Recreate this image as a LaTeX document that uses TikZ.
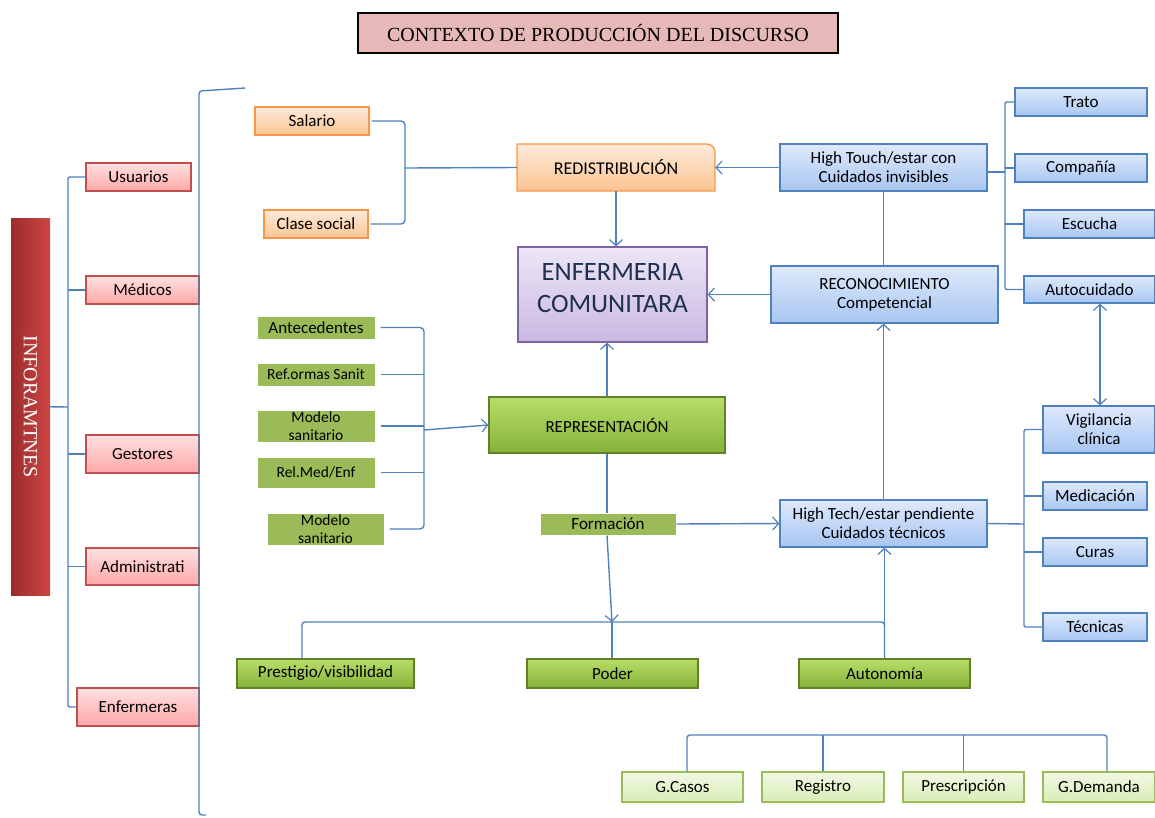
\documentclass[tikz,border=0pt]{standalone}
\usepackage{fontspec}
\setmainfont{Carlito}
\newfontfamily\serifx{Liberation Serif}
\usetikzlibrary{arrows.meta,backgrounds}
\definecolor{lblue}{HTML}{4F81BD}
\definecolor{redb}{HTML}{C0504D}
\definecolor{orab}{HTML}{F79646}
\definecolor{purb}{HTML}{8064A2}
\definecolor{grnf}{HTML}{9BBB59}
\definecolor{navy}{HTML}{1F3050}
\definecolor{bltop}{RGB}{222,233,251}
\definecolor{blbot}{RGB}{168,198,242}
\definecolor{rdtop}{RGB}{255,224,224}
\definecolor{rdbot}{RGB}{255,168,168}
\definecolor{ortop}{RGB}{254,234,218}
\definecolor{orbot}{RGB}{251,196,146}
\definecolor{gbtop}{RGB}{184,222,104}
\definecolor{gbbot}{RGB}{134,178,58}
\definecolor{gbdraw}{RGB}{98,128,40}
\definecolor{lgtop}{RGB}{242,248,230}
\definecolor{lgbot}{RGB}{216,237,180}
\begin{document}
\begin{tikzpicture}[x=1pt,y=-1pt,
  every node/.style={inner sep=0pt,align=center,font=\fontsize{17}{19}\selectfont},
  conn/.style={draw=lblue,line width=1.4pt},
  arr/.style={conn,-{Straight Barb[length=6pt,width=13pt,line width=1.2pt]}},
  darr/.style={conn,{Straight Barb[length=6pt,width=13pt,line width=1.2pt]}-{Straight Barb[length=6pt,width=13pt,line width=1.2pt]}},
  redbox/.style={draw=redb,line width=1.2pt,top color=rdtop,bottom color=rdbot},
  orabox/.style={draw=orab,line width=1.2pt,top color=ortop,bottom color=orbot},
  bluebox/.style={draw=lblue,line width=1.2pt,top color=bltop,bottom color=blbot},
  grnflat/.style={fill=grnf,draw=white,line width=1pt},
  grnbev/.style={draw=gbdraw,line width=1.2pt,top color=gbtop,bottom color=gbbot},
  lgrn/.style={draw=grnf,line width=1.2pt,top color=lgtop,bottom color=lgbot},
  small/.style={font=\fontsize{15.5}{17.5}\selectfont},
]
\useasboundingbox (0,0) rectangle (1155,817);

% title
\node[fill={rgb,255:red,230;green,184;blue,183},draw=black,line width=1.5pt,minimum width=480pt,minimum height=40pt,font=\serifx\fontsize{20}{22}\selectfont] (title) at (598,33) {CONTEXTO DE PRODUCCIÓN DEL DISCURSO};

% informants bar
\node[rotate=-90,minimum width=377pt,minimum height=39pt,left color={rgb,255:red,155;green,44;blue,42},right color={rgb,255:red,206;green,70;blue,68},text=white,font=\serifx\fontsize{20}{22}\selectfont] (infor) at (30.5,406.5) {INFORAMTNES};

% red boxes
\node[redbox,minimum width=105pt,minimum height=28pt] (usu) at (138.5,177) {Usuarios};
\node[redbox,minimum width=113pt,minimum height=28pt] (med) at (142.5,290) {Médicos};
\node[redbox,minimum width=113pt,minimum height=38pt] (ges) at (142.5,454) {Gestores};
\node[redbox,minimum width=113pt,minimum height=37pt] (adm) at (142.5,566.5) {Administrati};
\node[redbox,minimum width=122pt,minimum height=38pt] (enfs) at (138,707) {Enfermeras};

% orange
\node[orabox,minimum width=114pt,minimum height=28pt] (sal) at (312,121) {Salario};
\node[orabox,minimum width=104pt,minimum height=28pt] (cla) at (316,224) {Clase social};
\coordinate (rsw) at (517,191);
\coordinate (rne) at (715,144);
\begin{scope}[on background layer]
\path[draw=orab,line width=1.2pt,top color=ortop,bottom color=orbot]
  (rsw) -- (rsw |- rne) [rounded corners=8pt] -- (rne) [sharp corners] -- (rne |- rsw) -- cycle;
\end{scope}
\node[minimum width=198pt,minimum height=47pt,font=\fontsize{18}{20}\selectfont] (red) at (616,167.5) {REDISTRIBUCIÓN};

% central
\node[draw=purb,line width=1.2pt,top color={rgb,255:red,236;green,230;blue,245},bottom color={rgb,255:red,202;green,184;blue,226},minimum width=189pt,minimum height=95pt,text=navy,font=\fontsize{26.5}{32}\selectfont] (enf) at (612.5,294.5) {ENFERMERIA\\COMUNITARA\\[-18pt]\mbox{}};

% blue
\node[bluebox,minimum width=207pt,minimum height=47pt] (ht) at (883.5,167.5) {High Touch/estar con\\Cuidados invisibles};
\node[bluebox,minimum width=227pt,minimum height=57pt] (rec) at (884.5,294.5) {RECONOCIMIENTO\\Competencial};
\node[bluebox,minimum width=132pt,minimum height=28pt] (tra) at (1081,102) {Trato};
\node[bluebox,minimum width=132pt,minimum height=28pt] (com) at (1081,168) {Compañía};
\node[bluebox,minimum width=131pt,minimum height=28pt] (esc) at (1089.5,224) {Escucha};
\node[bluebox,minimum width=131pt,minimum height=27pt] (aut) at (1089.5,289.5) {Autocuidado};
\node[bluebox,minimum width=112pt,minimum height=47pt] (vig) at (1099,429.5) {Vigilancia\\clínica};
\node[bluebox,minimum width=104pt,minimum height=28pt] (medi) at (1095,496) {Medicación};
\node[bluebox,minimum width=104pt,minimum height=28pt] (cur) at (1095,552) {Curas};
\node[bluebox,minimum width=104pt,minimum height=28pt] (tec) at (1095,627) {Técnicas};
\node[bluebox,minimum width=207pt,minimum height=47pt] (htc) at (883.5,523.5) {High Tech/estar pendiente\\Cuidados técnicos};

% green
\node[grnflat,minimum width=136pt,minimum height=22pt] (for) at (608,524) {Formación};
\node[grnbev,minimum width=236pt,minimum height=56pt] (rep) at (607,425) {REPRESENTACIÓN};
\node[grnbev,minimum width=177pt,minimum height=29pt] (pre) at (325.5,673.5) {Prestigio/visibilidad};
\node[grnbev,minimum width=171pt,minimum height=29pt] (pod) at (612.5,673.5) {Poder};
\node[grnbev,minimum width=171pt,minimum height=29pt] (auto) at (884.5,673.5) {Autonomía};
\node[grnflat,minimum width=118pt,minimum height=23pt] (ant) at (316,327.5) {Antecedentes};
\node[grnflat,small,minimum width=118pt,minimum height=23pt] (ref) at (316,374.5) {Ref.ormas Sanit};
\node[grnflat,small,minimum width=118pt,minimum height=32pt] (mod1) at (316,426) {Modelo\\sanitario};
\node[grnflat,small,minimum width=118pt,minimum height=31pt] (rel) at (316,472.5) {Rel.Med/Enf};
\node[grnflat,small,minimum width=117pt,minimum height=32pt] (mod2) at (325.5,529) {Modelo\\sanitario};

\node[lgrn,minimum width=121pt,minimum height=30pt] (gc) at (682.5,787) {G.Casos};
\node[lgrn,minimum width=122pt,minimum height=30pt] (reg) at (823,787) {Registro};
\node[lgrn,minimum width=121pt,minimum height=30pt] (pres) at (963.5,787) {Prescripción};
\node[lgrn,minimum width=112pt,minimum height=30pt] (gd) at (1099,787) {G.Demanda};

% left tree
\coordinate (lb) at (68,407);
\draw[conn] (infor) -- (lb);
\draw[conn,rounded corners=2pt] (usu.west) -- (usu.west -| lb) -- (enfs.west -| lb) -- (enfs.west);
\foreach \n in {med,ges,adm} \draw[conn] (\n.west) -- (\n.west -| lb);

% big bracket
\coordinate (bt) at (245,88);
\coordinate (bb) at (206,815);
\draw[conn,rounded corners=3pt] (bt) -- (199,91) -- (199,815) -- (bb);

% salary bracket
\coordinate (sb) at (405,168);
\draw[conn,rounded corners=4pt] ([xshift=2pt]sal.east) -| (sb) |- ([xshift=2pt]cla.east);
\draw[conn] (sb) -- (red.west);
\draw[arr] (red.south) -- (red.south |- enf.north);
\draw[arr] (ht.west) -- (red.east);
\draw[conn] (ht.south) -- (rec.north -| ht.south);
\draw[arr] (rec.west) -- (rec.west -| enf.east);

% right top tree
\coordinate (rx) at (1005,172);
\draw[conn] (ht.east |- rx) -- (rx);
\draw[conn,rounded corners=2pt] (tra.west) -- (tra.west -| rx) -- (aut.west -| rx) -- (aut.west);
\draw[conn] (com.west) -- (com.west -| rx);
\draw[conn] (esc.west) -- (esc.west -| rx);
\draw[darr] (vig.north -| 1100,0) -- (aut.south -| 1100,0);

% right bottom tree
\coordinate (tx) at (1024,524);
\draw[conn] (htc.east) -- (tx);
\draw[conn,rounded corners=2pt] (vig.west) -- (vig.west -| tx) -- (tec.west -| tx) -- (tec.west);
\draw[conn] (medi.west) -- (medi.west -| tx);
\draw[conn] (cur.west) -- (cur.west -| tx);
\draw[arr] (htc.north) -- (htc.north |- rec.south);
\draw[arr] (for.east) -- (htc.west);

% center column
\draw[arr] (rep.north) -- (rep.north |- enf.south);
\draw[conn] (rep.south) -- (for.north -| rep.south);
\coordinate (pm) at (612,622);
\draw[arr] (for.south -| rep.south) -- (pm);
\draw[conn,rounded corners=3pt] ([xshift=-23.5pt]pre.north) -- ([xshift=-23.5pt]pre.north |- pm) -- (auto.north |- pm) -- (auto.north);
\draw[conn] (pod.north -| pm) -- (pm);
\draw[arr] (auto.north) -- (htc.south -| auto.north);

% left green bracket
\coordinate (gb) at (424,430);
\draw[conn,rounded corners=4pt] ([xshift=5pt]ant.east) -| (gb) |- ([xshift=5pt]mod2.east);
\draw[conn] ([xshift=5pt]ref.east) -- (ref.east -| gb);
\draw[conn] ([xshift=5pt]mod1.east) -- (mod1.east -| gb);
\draw[conn] ([xshift=5pt]rel.east) -- (rel.east -| gb);
\draw[arr] (gb) -- (rep.west);

% bottom tree
\coordinate (bbar) at (687,735);
\draw[conn,rounded corners=3pt] ([xshift=4.5pt]gc.north) -- ([xshift=4.5pt]gc.north |- bbar) -- ([xshift=8pt]gd.north |- bbar) -- ([xshift=8pt]gd.north);
\draw[conn] (reg.north) -- (reg.north |- bbar);
\draw[conn] (pres.north) -- (pres.north |- bbar);
\end{tikzpicture}
\end{document}
